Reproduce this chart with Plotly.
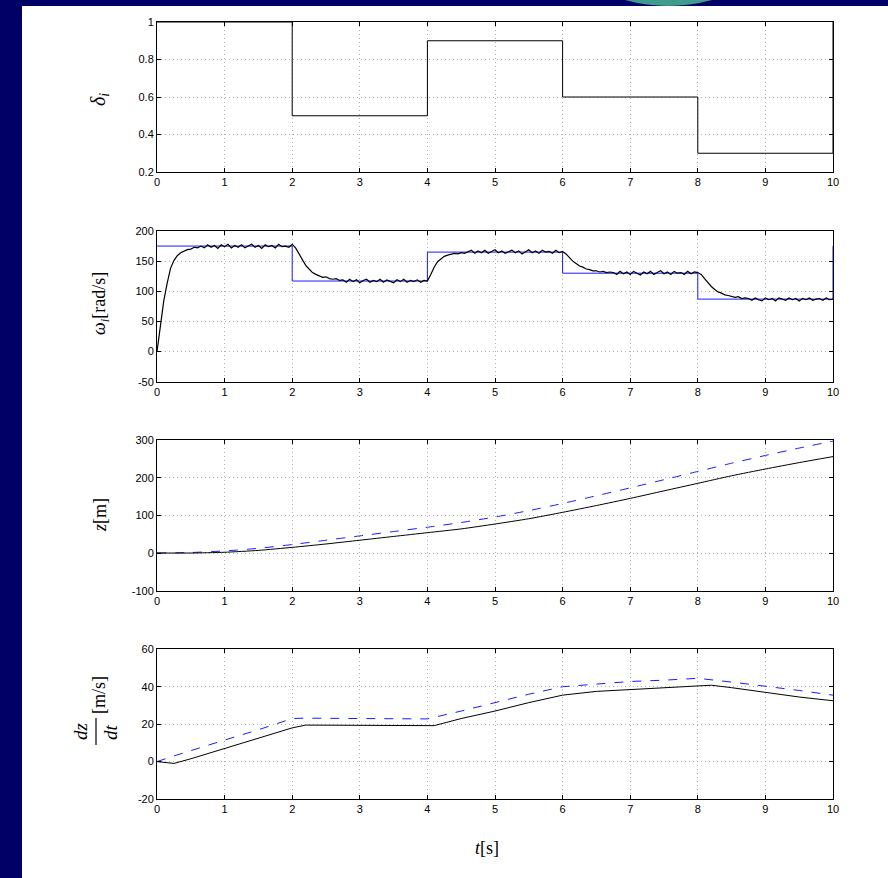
import plotly.graph_objects as go
from plotly.subplots import make_subplots

# ---------------- data ----------------
delta_t = [0, 2, 4, 6, 8, 10]
delta_v = [1.0, 0.5, 0.9, 0.6, 0.3, 1.0]

omega_ref_t = [0, 2, 4, 6, 8, 10]
omega_ref_v = [175, 117, 165, 130, 87, 175]

omega_v = [
    # 0 .. 0.6 s
    0, 45, 84, 113, 138, 151, 159, 164, 167, 169, 170, 173, 172,
    # 0.65 .. 2.0 s
    175, 172, 177, 173, 176, 171, 177, 174, 178, 172, 176, 173, 177, 172,
    175, 178, 173, 176, 171, 177, 174, 176, 172, 178, 174, 175, 173, 178,
    # 2.05 .. 2.7 s
    172, 163, 152, 143, 137, 131, 128, 126, 123, 124, 121, 120, 121, 118,
    # 2.75 .. 4.0 s
    119, 115, 120, 116, 119, 114, 118, 120, 115, 118, 116, 120, 115,
    119, 117, 114, 119, 116, 120, 115, 118, 116, 119, 115, 118, 117,
    # 4.05 .. 4.55 s
    128, 140, 149, 154, 158, 160, 161, 163, 162, 164, 163,
    # 4.6 .. 6.0 s
    165, 168, 163, 167, 164, 168, 163, 166, 169, 164, 167, 163, 166, 168, 164,
    167, 162, 166, 169, 164, 167, 163, 168, 165, 166, 163, 168, 164, 166,
    # 6.05 .. 6.7 s
    162, 156, 150, 146, 142, 140, 137, 136, 134, 134, 132, 133, 131, 132,
    # 6.75 .. 8.0 s
    131, 128, 133, 129, 132, 128, 133, 130, 127, 132, 129, 133, 128,
    131, 134, 129, 132, 128, 133, 130, 131, 128, 133, 129, 132, 131,
    # 8.05 .. 8.7 s
    128, 121, 114, 108, 103, 99, 97, 94, 93, 91, 90, 91, 88, 89,
    # 8.75 .. 10.0 s
    88, 85, 89, 86, 84, 89, 86, 88, 84, 89, 87, 85, 89,
    86, 88, 84, 88, 86, 89, 85, 87, 88, 85, 89, 86, 87,
]
omega_t = [round(i * 0.05, 2) for i in range(len(omega_v))]

z_t = [0, 0.5, 1, 1.5, 2, 2.5, 3, 3.5, 4, 4.5, 5, 5.5, 6, 6.5, 7, 7.5, 8, 8.5, 9, 9.5, 10]
z_actual = [0, 0, 2, 7, 15, 24, 34, 44, 54, 64, 77, 91, 108, 126, 145, 165, 185, 205, 223, 240, 256]
z_ref = [0, 1.4, 5.5, 12.5, 22.5, 34, 45.5, 57, 68.5, 81, 95.6, 112.5, 131.5, 152, 173, 194.6, 216.6, 238.4, 259, 278.6, 297]

dz_t = [0, 0.25, 0.5, 1, 1.5, 2, 2.2, 3, 4, 4.1, 4.5, 5, 5.5, 6, 6.5, 7, 7.5, 8, 8.2, 8.5, 9, 9.5, 10]
dz_actual = [0, -1, 1.5, 7, 12.5, 18, 19.5, 19.5, 19.3, 19.2, 23, 27, 31.5, 35.5, 37.5, 38.5, 39.5, 40.5, 40.8, 39.5, 37, 34.5, 32.5]
dzr_t = [0, 0.25, 1, 1.5, 2, 2.2, 3, 4, 4.5, 5, 5.5, 6, 6.5, 7, 7.5, 8, 8.5, 9, 9.5, 10]
dz_ref = [0, 3, 11.5, 17, 23, 23.2, 23, 22.8, 27, 31.5, 36, 40, 41.5, 42.8, 43.5, 44.5, 42.5, 40.4, 38, 35.5]

x_ticks = list(range(0, 11))
y1_ticks = [0.2, 0.4, 0.6, 0.8, 1]
y1_text = ["0.2", "0.4", "0.6", "0.8", "1"]
y2_ticks = [-50, 0, 50, 100, 150, 200]
y3_ticks = [-100, 0, 100, 200, 300]
y4_ticks = [-20, 0, 20, 40, 60]

# ---------------- figure ----------------
W, H = 888, 878
NAVY = "#000066"


def fx(p):
    return p / W


def fy(p):
    return 1 - p / H


fig = make_subplots(rows=4, cols=1)

BLUE = "#1a1aff"
fig.add_trace(go.Scatter(x=delta_t, y=delta_v, mode="lines", line=dict(color="black", width=1, shape="hv")), row=1, col=1)
fig.add_trace(go.Scatter(x=omega_ref_t, y=omega_ref_v, mode="lines", line=dict(color=BLUE, width=1, shape="hv")), row=2, col=1)
fig.add_trace(go.Scatter(x=omega_t, y=omega_v, mode="lines", line=dict(color="black", width=1.2)), row=2, col=1)
fig.add_trace(go.Scatter(x=z_t, y=z_ref, mode="lines", line=dict(color=BLUE, width=1, dash="dash", shape="spline", smoothing=0.6)), row=3, col=1)
fig.add_trace(go.Scatter(x=z_t, y=z_actual, mode="lines", line=dict(color="black", width=1, shape="spline", smoothing=0.6)), row=3, col=1)
fig.add_trace(go.Scatter(x=dzr_t, y=dz_ref, mode="lines", line=dict(color=BLUE, width=1, dash="dash")), row=4, col=1)
fig.add_trace(go.Scatter(x=dz_t, y=dz_actual, mode="lines", line=dict(color="black", width=1)), row=4, col=1)

tick_font = dict(family="Liberation Sans Narrow, Liberation Sans, Arial", size=11, color="black")
common = dict(
    showline=True, linecolor="black", linewidth=1, mirror="ticks",
    ticks="inside", ticklen=4, tickcolor="black",
    showgrid=True, gridcolor="#b0b0b0", griddash="1px,3px", gridwidth=1,
    zeroline=False, tickfont=tick_font, automargin=False,
)

panels = [(22, 172), (231, 381.7), (440, 590.7), (649.3, 799)]
yranges = [[0.2, 1], [-50, 200], [-100, 300], [-20, 60]]
yticks = [y1_ticks, y2_ticks, y3_ticks, y4_ticks]
ytexts = [y1_text, [str(v) for v in y2_ticks], [str(v) for v in y3_ticks], [str(v) for v in y4_ticks]]

for i in range(4):
    sfx = "" if i == 0 else str(i + 1)
    top, bot = panels[i]
    fig.layout["xaxis" + sfx].update(
        domain=[fx(157), fx(833)], range=[0, 10], tickvals=x_ticks,
        ticktext=[str(v) for v in x_ticks], **common)
    fig.layout["yaxis" + sfx].update(
        domain=[fy(bot), fy(top)], range=yranges[i], tickvals=yticks[i],
        ticktext=ytexts[i], **common)

serif = "Liberation Serif, DejaVu Serif, serif"
ann = []


def lab(text, x, y, size=16, angle=-90):
    ann.append(dict(text=text, x=fx(x), y=fy(y), xref="paper", yref="paper",
                    showarrow=False, textangle=angle, xanchor="center", yanchor="middle",
                    font=dict(family=serif, size=size, color="black")))


lab("<i>δ<sub>i</sub></i>", 99, 100, 20)
lab("<i>ω<sub>i</sub></i>[rad/s]", 100, 304, 18)
lab("<i>z</i>[m]", 100, 515, 18)
lab("<i>dz</i>", 80, 731, 19)
lab("<i>dt</i>", 110, 732, 19)
lab("[m/s]", 99, 695, 18)
lab("<i>t</i>[s]", 487, 848, 18, 0)

shapes = [
    # navy slide background: top band and left band
    dict(type="rect", xref="paper", yref="paper", x0=0, x1=1.0, y0=fy(6), y1=1.0,
         fillcolor=NAVY, line=dict(width=0), layer="below"),
    dict(type="rect", xref="paper", yref="paper", x0=0, x1=fx(22), y0=0, y1=1.0,
         fillcolor=NAVY, line=dict(width=0), layer="below"),
    # teal blob peeking in at the top
    dict(type="path", xref="paper", yref="paper",
         path="M %f %f Q %f %f %f %f Z" % (fx(625), fy(0), fx(668), fy(12), fx(712), fy(0)),
         fillcolor="#3f9b8c", line=dict(width=0), layer="below"),
    # fraction bar of dz/dt
    dict(type="line", xref="paper", yref="paper", x0=fx(96), x1=fx(96), y0=fy(718), y1=fy(745),
         line=dict(color="black", width=1.2)),
]

fig.update_layout(
    width=W, height=H, autosize=False,
    margin=dict(l=0, r=0, t=0, b=0, pad=0, autoexpand=False),
    paper_bgcolor="white", plot_bgcolor="white",
    showlegend=False, annotations=ann, shapes=shapes,
)

fig.write_html(
    "out.html",
    config={"displayModeBar": False},
    post_script="document.body.style.margin='0';document.body.style.padding='0';"
                "document.documentElement.style.overflow='hidden';",
)
